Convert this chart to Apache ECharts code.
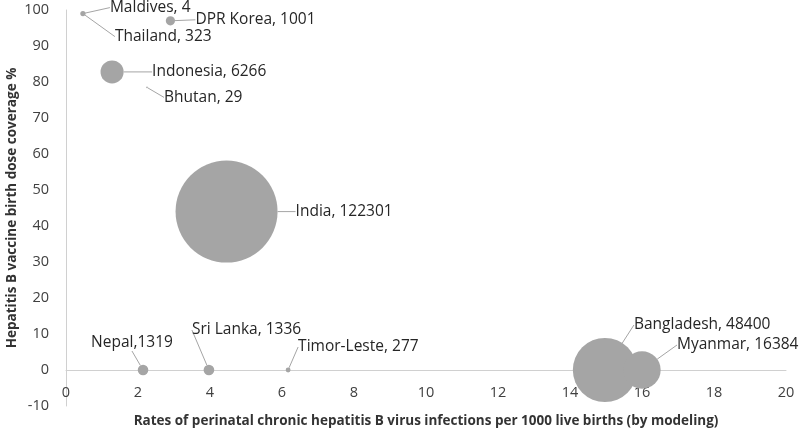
<!DOCTYPE html>
<html>
<head>
<meta charset="utf-8">
<script src="https://cdn.jsdelivr.net/npm/echarts@6/dist/echarts.min.js"></script>
<style>
html,body{margin:0;padding:0;background:#fff;}
#c{width:800px;height:429px;}
</style>
</head>
<body>
<div id="c"></div>
<script>
// ---- data ----
const countries = ['Maldives','Thailand','DPR Korea','Indonesia','Bhutan','India','Nepal','Sri Lanka','Timor-Leste','Bangladesh','Myanmar'];
const rates     = [0.47, 0.47, 2.9, 1.28, 2.25, 4.46, 2.14, 3.97, 6.17, 14.97, 16.0];
const coverage  = [99, 99, 97, 82.8, 78.5, 44, 0, 0, 0, 0, 0];
const infections = [4, 323, 1001, 6266, 29, 122301, 1319, 1336, 277, 48400, 16384];
const labelTexts = ['Maldives, 4','Thailand, 323','DPR Korea, 1001','Indonesia, 6266','Bhutan, 29','India, 122301','Nepal,1319','Sri Lanka, 1336','Timor-Leste, 277','Bangladesh, 48400','Myanmar, 16384'];
const xTicks = {min: 0, max: 20, interval: 2};
const yTicks = {min: -10, max: 100, interval: 10};

// ---- layout (label offsets from point centre: left edge x, centre y) ----
const labelOffX = [27, 32, 25, 40, 17, 69, -52, -17, 10, 29, 35];
const labelOffY = [-6, 23, -1, 0, 10, 0, -27, -40, -23, -45, -25];

const maxInf = Math.max.apply(null, infections);
const maxDiameter = 102;

const data = countries.map((n, i) => ({
  name: n,
  value: [rates[i], coverage[i], infections[i]],
  symbolSize: Math.max(1.5, maxDiameter * Math.sqrt(infections[i] / maxInf))
}));

const chart = echarts.init(document.getElementById('c'), null, {renderer: 'canvas'});
const FONT = 'Open Sans';
chart.setOption({
  animation: false,
  backgroundColor: '#ffffff',
  grid: {left: 66, right: 14, top: 10, bottom: 23, containLabel: false, outerBoundsMode: 'none'},
  xAxis: {
    type: 'value', min: xTicks.min, max: xTicks.max, interval: xTicks.interval,
    axisLine: {onZero: true, lineStyle: {color: '#d0d0d0', width: 1}},
    axisTick: {show: false},
    splitLine: {show: false},
    axisLabel: {color: '#404040', fontFamily: FONT, fontSize: 14.5, margin: -21},
    name: 'Rates of perinatal chronic hepatitis B virus infections per 1000 live births (by modeling)',
    nameLocation: 'middle', nameGap: 8, nameMoveOverlap: false,
    nameTextStyle: {color: '#333333', fontFamily: FONT, fontSize: 13.5, fontWeight: 'bold'}
  },
  yAxis: {
    type: 'value', min: yTicks.min, max: yTicks.max, interval: yTicks.interval,
    axisLine: {show: true, onZero: true, lineStyle: {color: '#d0d0d0', width: 1}},
    axisTick: {show: false},
    splitLine: {show: false},
    axisLabel: {color: '#404040', fontFamily: FONT, fontSize: 14.5, margin: 17},
    name: 'Hepatitis B vaccine birth dose coverage %',
    nameLocation: 'middle', nameGap: 47, nameRotate: 90, nameMoveOverlap: false,
    nameTextStyle: {color: '#333333', fontFamily: FONT, fontSize: 13.5, fontWeight: 'bold'}
  },
  series: [{
    type: 'scatter',
    data: data,
    itemStyle: {color: '#a5a5a5', opacity: 1},
    label: {
      show: true,
      position: 'right',
      color: '#262626',
      fontFamily: FONT,
      fontSize: 15.5,
      formatter: (p) => labelTexts[p.dataIndex]
    },
    labelLine: {show: true, lineStyle: {color: '#a5a5a5', width: 1}},
    labelLayout: function (p) {
      const r = p.rect;
      const cx = r.x + r.width / 2, cy = r.y + r.height / 2;
      return {
        x: cx + labelOffX[p.dataIndex],
        y: cy + labelOffY[p.dataIndex],
        align: 'left',
        verticalAlign: 'middle'
      };
    }
  }]
});
</script>
</body>
</html>
